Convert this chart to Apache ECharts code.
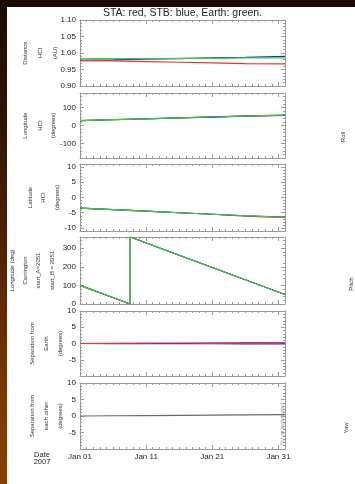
<!DOCTYPE html>
<html>
<head>
<meta charset="utf-8">
<script src="https://cdn.jsdelivr.net/npm/echarts@6/dist/echarts.min.js"></script>
<style>
html,body{margin:0;padding:0;width:355px;height:484px;overflow:hidden;}
body{background:linear-gradient(to bottom,#1a0a03 0%,#2e1405 25%,#552505 55%,#7e3a02 85%,#8a4000 100%);}
#paper{position:absolute;left:7px;top:7px;width:348px;height:477px;background:#fff;}
#chart{position:absolute;left:0;top:0;width:355px;height:484px;}
</style>
</head>
<body>
<div id="paper"></div>
<div id="chart"></div>
<script>
// ---- data (days since 2007-01-01 00:00) ----
const days = [0, 5, 10, 15, 20, 25, 31];
const xTickValues = [0, 10, 20, 30];
const xTickLabels = ['Jan 01', 'Jan 11', 'Jan 21', 'Jan 31'];

const staDist   = [0.977, 0.976, 0.974, 0.972, 0.970, 0.968, 0.967];
const stbDist   = [0.978, 0.979, 0.981, 0.983, 0.985, 0.987, 0.990];
const earthDist = [0.983, 0.983, 0.983, 0.984, 0.984, 0.985, 0.985];

const staLon   = [27.3, 32.4, 37.5, 42.6, 47.7, 52.8, 58.0];
const stbLon   = [26.8, 31.8, 36.8, 41.8, 46.8, 51.8, 56.6];
const earthLon = [27, 32, 37, 42, 47, 52, 57];

const staLat   = [-3.5, -4.0, -4.5, -5.0, -5.5, -6.1, -6.6];
const stbLat   = [-3.5, -4.0, -4.5, -5.0, -5.5, -6.0, -6.4];
const earthLat = [-3.5, -4.0, -4.5, -5.0, -5.5, -6.0, -6.5];

const carrDays = [0, 7.6, 7.6, 15, 20, 25, 31];
const staCarr   = [100, 0, 360, 262, 196, 130, 51];
const stbCarr   = [100, 0, 360, 262, 196, 130, 51];
const earthCarr = [100, 0, 360, 262, 196, 130, 51];

const staSepEarth = [0, 0.05, 0.1, 0.15, 0.2, 0.25, 0.3];
const stbSepEarth = [0, -0.02, -0.04, -0.06, -0.08, -0.1, -0.12];

const sepEachOther = [0, 0.07, 0.14, 0.21, 0.28, 0.35, 0.42];

// ---- styling / layout ----
const RED = '#ee3030', BLUE = '#2424cc', GREEN = '#3cd03c', GRAY = '#6a6a6a';
const FRAME = '#9a9a9a';
const FONT = 'Liberation Sans';
const gridLeft = 80, gridWidth = 205;
const panels = [
  {top: 20,  height: 66, min: 0.9, max: 1.1, interval: 0.05, minorSplit: 5, ticks: null, labels: [0.9, 0.95, 1.0, 1.05, 1.1], fmt: v => v.toFixed(2),
   title: ['Distance', 'HCI', '(AU)'], tx: [25, 40, 55]},
  {top: 93,  height: 65, min: -180, max: 180, interval: 180, minorSplit: 9, ticks: [-100, 0, 100], labels: [-100, 0, 100], fmt: v => String(v),
   title: ['Longitude', 'HCI', '(degrees)'], tx: [25, 40, 53]},
  {top: 164, height: 67, min: -11, max: 11, interval: 11, minorSplit: 11, ticks: [-10, -5, 0, 5, 10], labels: [-10, -5, 0, 5, 10], fmt: v => String(v),
   title: ['Latitude', 'HCI', '(degrees)'], tx: [30, 43, 57]},
  {top: 237, height: 67, min: 0, max: 360, interval: 120, minorSplit: 6, ticks: [0, 100, 200, 300], labels: [0, 100, 200, 300], fmt: v => String(v),
   title: ['Longitude (deg)', 'Carrington', 'start_A=2051', 'start_B = 2051'], tx: [12, 25, 38, 52]},
  {top: 311, height: 65, min: -10, max: 10, interval: 5, minorSplit: 5, ticks: null, labels: [-5, 0, 5, 10], fmt: v => String(v),
   title: ['Separation from', 'Earth', '(degrees)'], tx: [32, 46, 60]},
  {top: 383, height: 66, min: -10, max: 10, interval: 5, minorSplit: 5, ticks: null, labels: [-5, 0, 5, 10], fmt: v => String(v),
   title: ['Separation from', 'each other', '(degrees)'], tx: [32, 46, 60]}
];

const pair = (xs, ys) => xs.map((x, i) => [x, ys[i]]);

const grid = [], xAxis = [], yAxis = [], series = [], graphic = [];
panels.forEach((p, i) => {
  grid.push({left: gridLeft, top: p.top, width: gridWidth, height: p.height, containLabel: false});
  const last = i === panels.length - 1;
  ['bottom', 'top'].forEach(pos => {
    xAxis.push({
      type: 'value', gridIndex: i, position: pos, min: 0, max: 31, interval: 10,
      axisLine: {show: true, onZero: false, lineStyle: {color: FRAME, width: 1}},
      axisTick: {show: true, inside: true, length: 4, customValues: xTickValues, lineStyle: {color: FRAME}},
      minorTick: {show: true, splitNumber: 10, length: 2, lineStyle: {color: FRAME}},
      splitLine: {show: false},
      axisLabel: {show: last && pos === 'bottom', customValues: xTickValues, margin: 4,
        formatter: v => xTickLabels[xTickValues.indexOf(v)] || '',
        color: '#222', fontSize: 8, fontFamily: FONT}
    });
  });
  ['left', 'right'].forEach(pos => {
    const tick = {show: true, inside: true, length: 4, lineStyle: {color: FRAME}};
    if (p.ticks) tick.customValues = p.ticks;
    yAxis.push({
      type: 'value', gridIndex: i, position: pos, min: p.min, max: p.max, interval: p.interval,
      axisLine: {show: true, onZero: false, lineStyle: {color: FRAME, width: 1}},
      axisTick: tick,
      minorTick: {show: true, splitNumber: p.minorSplit, length: 2, lineStyle: {color: FRAME}},
      splitLine: {show: false},
      axisLabel: {show: pos === 'left', customValues: p.labels, margin: 4, formatter: p.fmt,
        color: '#222', fontSize: 8, fontFamily: FONT}
    });
  });
  const cy = p.top + p.height / 2;
  p.title.forEach((t, k) => {
    graphic.push({type: 'text', x: p.tx[k], y: cy, rotation: Math.PI / 2, silent: true,
      style: {text: t, fill: '#333', fontSize: 6, fontFamily: FONT, align: 'center', verticalAlign: 'middle'}});
  });
});

function line(gi, data, color, z) {
  series.push({type: 'line', xAxisIndex: gi * 2, yAxisIndex: gi * 2, data: data, showSymbol: false,
    symbol: 'none', lineStyle: {color: color, width: 1.2}, z: z, animation: false});
}
line(0, pair(days, stbDist), BLUE, 2);
line(0, pair(days, staDist), RED, 3);
line(0, pair(days, earthDist), GREEN, 4);
line(1, pair(days, staLon), RED, 2);
line(1, pair(days, stbLon), BLUE, 3);
line(1, pair(days, earthLon), GREEN, 4);
line(2, pair(days, staLat), RED, 2);
line(2, pair(days, stbLat), BLUE, 3);
line(2, pair(days, earthLat), GREEN, 4);
line(3, pair(carrDays, staCarr), RED, 2);
line(3, pair(carrDays, stbCarr), BLUE, 3);
line(3, pair(carrDays, earthCarr), GREEN, 4);
line(4, pair(days, stbSepEarth), BLUE, 2);
line(4, pair(days, staSepEarth), RED, 3);
line(5, pair(days, sepEachOther), GRAY, 2);

// title, date label, side labels
graphic.push({type: 'text', x: gridLeft + gridWidth / 2, y: 13, silent: true,
  style: {text: 'STA: red, STB: blue, Earth: green.', fill: '#222', fontSize: 10.5, fontFamily: FONT, align: 'center', verticalAlign: 'middle'}});
graphic.push({type: 'text', x: 42, y: 455, silent: true,
  style: {text: 'Date', fill: '#222', fontSize: 7.5, fontFamily: FONT, align: 'center', verticalAlign: 'middle'}});
graphic.push({type: 'text', x: 42, y: 462, silent: true,
  style: {text: '2007', fill: '#222', fontSize: 7.5, fontFamily: FONT, align: 'center', verticalAlign: 'middle'}});
[['Roll', 343, 137], ['Pitch', 351, 284], ['Yaw', 346, 428]].forEach(s => {
  graphic.push({type: 'text', x: s[1], y: s[2], rotation: Math.PI / 2, silent: true,
    style: {text: s[0], fill: '#333', fontSize: 6, fontFamily: FONT, align: 'center', verticalAlign: 'middle'}});
});
graphic.push({type: 'text', x: 283, y: 424, rotation: Math.PI / 2, silent: true,
  style: {text: 'Not yet implemented', fill: '#999', fontSize: 4.5, fontFamily: FONT, align: 'center', verticalAlign: 'middle'}});

const chart = echarts.init(document.getElementById('chart'), null, {renderer: 'canvas'});
chart.setOption({
  backgroundColor: 'transparent',
  animation: false,
  grid, xAxis, yAxis, series, graphic
});
</script>
</body>
</html>
